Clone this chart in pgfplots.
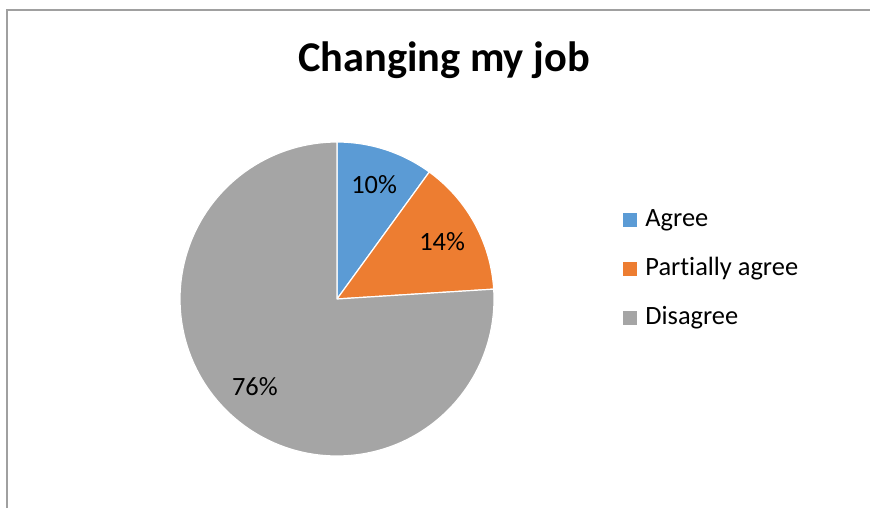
\documentclass[border=0pt]{standalone}
\usepackage{pgfplots}
\usepackage{pgfplotstable}
\pgfplotsset{compat=1.18}
\usepackage{fontspec}
\setmainfont{Carlito}[Ligatures=NoCommon]

\definecolor{agreeblue}{HTML}{5B9BD5}
\definecolor{partorange}{HTML}{ED7D31}
\definecolor{disgray}{HTML}{A5A5A5}
\definecolor{framegray}{HTML}{A0A0A0}

% share of answers, in percent
\pgfplotstableread[col sep=comma]{
label,value,color
Agree,10,agreeblue
Partially agree,14,partorange
Disagree,76,disgray
}\piedata

\tikzset{
  pielabel/.style={font=\fontsize{13.2}{15}\selectfont, inner sep=0pt},
  leglabel/.style={font=\fontsize{13.2}{15}\selectfont, inner sep=0pt, anchor=base west},
}

\begin{document}
\begin{tikzpicture}
% 1 px of the reference = 0.5pt
\begin{axis}[
    at={(0,0)}, anchor=south west,
    width=435pt, height=254pt, scale only axis,
    xmin=0, xmax=870, ymin=0, ymax=508,
    hide axis, clip=false,
]
% frame (left and top edge)
\draw[framegray, line width=0.7pt] (axis cs:7,0) -- (axis cs:7,498) -- (axis cs:870,498);

% title
\node[anchor=base, inner sep=0pt, font=\fontsize{21.2}{25}\selectfont\bfseries]
    at (axis cs:444,436) {Changing my job};

% pie, clockwise from the top
\def\startangle{90}
\pgfplotsforeachungrouped \i in {0,1,2}{
    \pgfplotstablegetelem{\i}{value}\of\piedata \let\val\pgfplotsretval
    \pgfplotstablegetelem{\i}{color}\of\piedata \let\col\pgfplotsretval
    \pgfplotstablegetelem{\i}{label}\of\piedata \let\lab\pgfplotsretval
    \pgfmathsetmacro\endangle{\startangle-3.6*\val}
    \pgfmathsetmacro\midangle{(\startangle+\endangle)/2}
    \pgfmathsetmacro\legy{508-227-49*\i}
    \edef\temp{%
      \noexpand\fill[\col, draw=white, line width=0.6pt, line join=round]
        (axis cs:337,209) -- ++(\startangle:78.5pt)
        arc[start angle=\startangle, end angle=\endangle, radius=78.5pt] -- cycle;
      \noexpand\path (axis cs:337,209) ++(\midangle:60pt)
        node[pielabel] {\val\noexpand\%};
      \noexpand\fill[\col] (axis cs:623,\legy) rectangle ++(7pt,7pt);
      \noexpand\node[leglabel] at (axis cs:645,\legy) {\lab};
    }
    \temp
    \let\startangle\endangle
}
\end{axis}
\pgfresetboundingbox
\useasboundingbox (0,0) rectangle (435pt,254pt);
\end{tikzpicture}
\end{document}
